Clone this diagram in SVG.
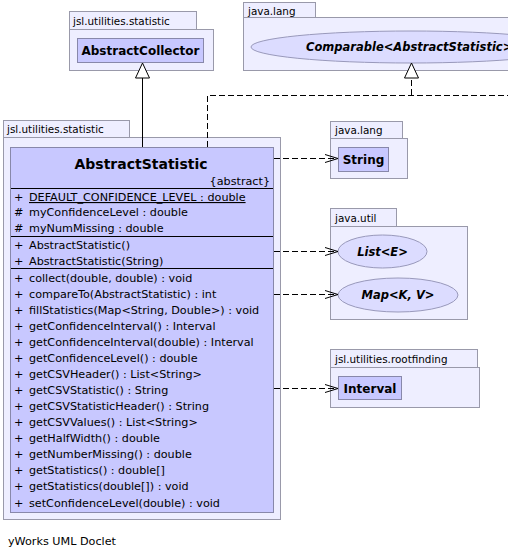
<svg xmlns="http://www.w3.org/2000/svg" width="508" height="557" viewBox="0 0 508 557">
<defs>
<marker id="open" markerWidth="14" markerHeight="10" refX="13" refY="5" orient="auto" markerUnits="userSpaceOnUse">
<path d="M0,1 L13,5 L0,9" fill="none" stroke="#000" stroke-width="1"/>
</marker>
</defs>
<style>
.pkg{fill:#eeeeff;stroke:#9999aa;stroke-width:1}
.cls{fill:#c8c8ff;stroke:#8888aa;stroke-width:1}
.ell{fill:#dcdcff;stroke:#9999bb;stroke-width:1}
.t{font-family:"DejaVu Sans",sans-serif;font-size:11.2px;fill:#000}
.tab{font-family:"DejaVu Sans",sans-serif;font-size:10.4px;fill:#000}
.b{font-family:"DejaVu Sans",sans-serif;font-size:12px;font-weight:bold;fill:#000}
.bi{font-family:"DejaVu Sans",sans-serif;font-size:11.5px;font-weight:bold;font-style:italic;fill:#000}
.dash{fill:none;stroke:#000;stroke-width:1;stroke-dasharray:6,3}
.sol{fill:none;stroke:#000;stroke-width:1}
.sep{stroke:#000;stroke-width:1}
</style>
<rect width="508" height="557" fill="#ffffff"/>

<g id="pkg-collector">
<rect class="pkg" x="69.5" y="11.5" width="127" height="18"/>
<rect class="pkg" x="69.5" y="29.5" width="144" height="41"/>
<text class="tab" x="73" y="25">jsl.utilities.statistic</text>
</g>
<g id="AbstractCollector">
<rect class="cls" x="77.5" y="38.5" width="126" height="24"/>
<text class="b" x="140.5" y="55" text-anchor="middle">AbstractCollector</text>
</g>

<g id="pkg-lang1">
<rect class="pkg" x="243.5" y="2.5" width="72" height="15"/>
<rect class="pkg" x="243.5" y="17.5" width="340" height="53"/>
<text class="tab" x="248" y="14.5">java.lang</text>
</g>
<g id="Comparable">
<ellipse class="ell" cx="411" cy="47" rx="160" ry="16"/>
<text class="bi" x="306" y="51">Comparable&lt;AbstractStatistic&gt;</text>
</g>

<g id="pkg-statistic">
<rect class="pkg" x="3.5" y="120.5" width="126" height="17"/>
<rect class="pkg" x="3.5" y="137.5" width="277" height="382"/>
<text class="tab" x="7" y="133">jsl.utilities.statistic</text>
</g>
<g id="AbstractStatistic">
<rect class="cls" x="10.5" y="147.5" width="263" height="365"/>
<text class="b" x="141" y="169" text-anchor="middle" style="font-size:14px">AbstractStatistic</text>
<text class="t" x="270" y="185" text-anchor="end">{abstract}</text>
<line class="sep" x1="11" y1="188.5" x2="273" y2="188.5"/>
<g class="t">
<text x="14" y="201">+</text><text x="29" y="201" text-decoration="underline">DEFAULT_CONFIDENCE_LEVEL : double</text>
<text x="14" y="216">#</text><text x="29" y="216">myConfidenceLevel : double</text>
<text x="14" y="232">#</text><text x="29" y="232">myNumMissing : double</text>
</g>
<line class="sep" x1="11" y1="236.5" x2="273" y2="236.5"/>
<g class="t">
<text x="14" y="249">+</text><text x="29" y="249">AbstractStatistic()</text>
<text x="14" y="265">+</text><text x="29" y="265">AbstractStatistic(String)</text>
</g>
<line class="sep" x1="11" y1="268.5" x2="273" y2="268.5"/>
<g class="t">
<text x="14" y="282">+</text><text x="29" y="282">collect(double, double) : void</text>
<text x="14" y="298">+</text><text x="29" y="298">compareTo(AbstractStatistic) : int</text>
<text x="14" y="314">+</text><text x="29" y="314">fillStatistics(Map&lt;String, Double&gt;) : void</text>
<text x="14" y="330">+</text><text x="29" y="330">getConfidenceInterval() : Interval</text>
<text x="14" y="346">+</text><text x="29" y="346">getConfidenceInterval(double) : Interval</text>
<text x="14" y="362">+</text><text x="29" y="362">getConfidenceLevel() : double</text>
<text x="14" y="378">+</text><text x="29" y="378">getCSVHeader() : List&lt;String&gt;</text>
<text x="14" y="394">+</text><text x="29" y="394">getCSVStatistic() : String</text>
<text x="14" y="410">+</text><text x="29" y="410">getCSVStatisticHeader() : String</text>
<text x="14" y="426">+</text><text x="29" y="426">getCSVValues() : List&lt;String&gt;</text>
<text x="14" y="442">+</text><text x="29" y="442">getHalfWidth() : double</text>
<text x="14" y="458">+</text><text x="29" y="458">getNumberMissing() : double</text>
<text x="14" y="474">+</text><text x="29" y="474">getStatistics() : double[]</text>
<text x="14" y="490">+</text><text x="29" y="490">getStatistics(double[]) : void</text>
<text x="14" y="507">+</text><text x="29" y="507">setConfidenceLevel(double) : void</text>
</g>
</g>

<g id="pkg-lang2">
<rect class="pkg" x="330.5" y="121.5" width="72" height="17"/>
<rect class="pkg" x="330.5" y="138.5" width="77" height="40"/>
<text class="tab" x="335" y="134">java.lang</text>
</g>
<g id="String">
<rect class="cls" x="338.5" y="147.5" width="50" height="24"/>
<text class="b" x="363.5" y="164" text-anchor="middle">String</text>
</g>

<g id="pkg-util">
<rect class="pkg" x="330.5" y="208.5" width="66" height="18"/>
<rect class="pkg" x="330.5" y="226.5" width="137" height="93"/>
<text class="tab" x="335" y="222">java.util</text>
</g>
<g id="List">
<ellipse class="ell" cx="382.5" cy="251.5" rx="44.5" ry="16.5"/>
<text class="bi" x="382.5" y="256" text-anchor="middle">List&lt;E&gt;</text>
</g>
<g id="Map">
<ellipse class="ell" cx="398" cy="295" rx="60" ry="17"/>
<text class="bi" x="398" y="299" text-anchor="middle">Map&lt;K, V&gt;</text>
</g>

<g id="pkg-rootfinding">
<rect class="pkg" x="330.5" y="349.5" width="147" height="18"/>
<rect class="pkg" x="330.5" y="367.5" width="149" height="40"/>
<text class="tab" x="335" y="363">jsl.utilities.rootfinding</text>
</g>
<g id="Interval">
<rect class="cls" x="338.5" y="376.5" width="63" height="23"/>
<text class="b" x="370" y="393" text-anchor="middle">Interval</text>
</g>

<g id="connectors">
<path class="sol" d="M142.5,147 L142.5,78"/>
<path d="M142.5,63 L135.5,78 L149.5,78 Z" fill="#fff" stroke="#000"/>
<path class="dash" d="M207.5,147 L207.5,95.5 L508,95.5"/>
<path class="dash" d="M411.5,95 L411.5,78"/>
<path d="M411.5,63 L404.5,78 L418.5,78 Z" fill="#fff" stroke="#000"/>
<path class="dash" d="M274,158.5 L338,158.5" marker-end="url(#open)"/>
<path class="dash" d="M274,251.5 L338,251.5" marker-end="url(#open)"/>
<path class="dash" d="M274,294.5 L338,294.5" marker-end="url(#open)"/>
<path class="dash" d="M274,388.5 L338,388.5" marker-end="url(#open)"/>
</g>

<text class="t" x="8" y="545">yWorks UML Doclet</text>
</svg>
